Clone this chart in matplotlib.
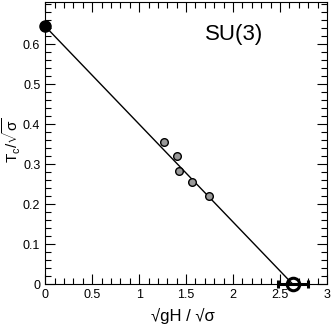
import matplotlib
matplotlib.use("Agg")
import matplotlib.pyplot as plt
from matplotlib.ticker import MultipleLocator

plt.rcParams['font.family'] = ['Liberation Sans', 'DejaVu Sans']
plt.rcParams['mathtext.fontset'] = 'custom'
plt.rcParams['mathtext.rm'] = 'Liberation Sans'
plt.rcParams['mathtext.it'] = 'Liberation Sans'

# lattice points: sqrt(gH)/sqrt(sigma) vs Tc/sqrt(sigma)
x_pts = [1.26, 1.40, 1.42, 1.56, 1.74]
y_pts = [0.355, 0.320, 0.283, 0.255, 0.220]
y_err = [0.006, 0.006, 0.006, 0.005, 0.005]

# zero-field value
x0 = [0.0]
y0 = [0.645]

# extrapolated critical field
x_crit = [2.635]
y_crit = [0.0]
x_crit_err = [0.16]

x_ticks = [0, 0.5, 1, 1.5, 2, 2.5, 3]
x_labels = ['0', '0.5', '1', '1.5', '2', '2.5', '3']
y_ticks = [0, 0.1, 0.2, 0.3, 0.4, 0.5, 0.6]
y_labels = ['0', '0.1', '0.2', '0.3', '0.4', '0.5', '0.6']

fig = plt.figure(figsize=(3.32, 3.27), dpi=100)
ax = fig.add_axes([0.136, 0.131, 0.849, 0.862])

# linear fit through the zero-field point and the critical field
ax.plot([x0[0], x_crit[0]], [y0[0], y_crit[0]], color='black', lw=1.0)

ax.errorbar(x_pts, y_pts, yerr=y_err, xerr=0.012, fmt='o', ms=5.5, mfc='#999999',
            mec='black', mew=1.0, ecolor='black', elinewidth=1.0, capsize=0)
ax.plot(x0, y0, 'o', ms=8, color='black', clip_on=False)
ax.errorbar(x_crit, y_crit, xerr=x_crit_err, fmt='o', ms=9, mfc='none',
            mec='black', mew=2.2, ecolor='black', elinewidth=2.2, capsize=3,
            capthick=2.2, clip_on=False)

ax.set_xlim(0, 3)
ax.set_ylim(0, 0.705)
ax.set_xticks(x_ticks)
ax.set_xticklabels(x_labels)
ax.set_yticks(y_ticks)
ax.set_yticklabels(y_labels)
ax.xaxis.set_minor_locator(MultipleLocator(0.1))
ax.yaxis.set_minor_locator(MultipleLocator(0.02))
ax.tick_params(which='both', direction='in', top=True, right=True, labelsize=9)
ax.tick_params(which='major', length=7, width=0.8)
ax.tick_params(which='minor', length=4, width=0.8)

ax.set_xlabel('√gH / √σ', fontsize=12, va='center')
ax.xaxis.set_label_coords(0.49, -0.112)
ax.set_ylabel(r'$\mathrm{T_c}/\sqrt{\sigma}$', fontsize=11, va='center')
ax.yaxis.set_label_coords(-0.117, 0.51)
ax.text(0.775, 0.887, 'SU(3)', transform=ax.transAxes, ha='right', va='center',
        fontsize=16)

fig.savefig('out.png', dpi=100)
